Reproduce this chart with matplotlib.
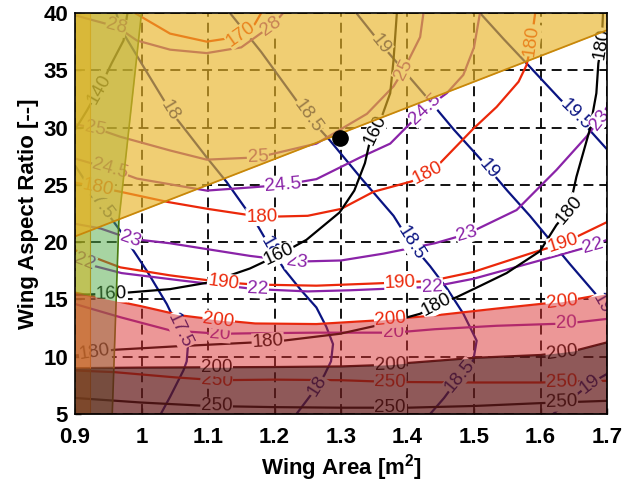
import numpy as np
import matplotlib
matplotlib.use('Agg')
import matplotlib.pyplot as plt

plt.rcParams['font.family'] = ['Liberation Sans', 'DejaVu Sans']
plt.rcParams['mathtext.fontset'] = 'custom'
plt.rcParams['mathtext.rm'] = 'Liberation Sans'
plt.rcParams['mathtext.bf'] = 'Liberation Sans:bold'

# contour lines, (wing area, aspect ratio)
navy_175 = [(0.9, 26.7), (0.935, 23.6), (0.968, 21.0), (1.008, 17.5), (1.038, 14.6), (1.058, 12.2),
            (1.07, 11.1), (1.068, 9.6), (1.063, 8.8), (1.043, 6.5), (1.029, 5.0)]
navy_18 = [(0.962, 40), (0.970, 38.5), (1.0, 35.6), (1.043, 31.5), (1.07, 29.5), (1.098, 27.4),
           (1.128, 25.25), (1.158, 22.8), (1.173, 21.6), (1.193, 19.6), (1.215, 17.6), (1.24, 15.8),
           (1.263, 14.3), (1.278, 12.6), (1.288, 11.1), (1.285, 9.6), (1.275, 8.4), (1.263, 7.3), (1.233, 5.0)]
navy_185 = [(1.133, 40), (1.18, 36.6), (1.225, 33.0), (1.25, 31.0), (1.283, 28.9), (1.33, 25.6),
            (1.379, 22.3), (1.405, 19.9), (1.434, 17.9), (1.46, 15.9), (1.484, 13.75), (1.504, 11.4),
            (1.499, 9.7), (1.479, 8.3), (1.455, 6.4), (1.434, 5.0)]
navy_19 = [(1.323, 40), (1.36, 37.3), (1.40, 34.6), (1.434, 32.3), (1.47, 29.8), (1.509, 27.3),
           (1.55, 24.5), (1.584, 22.3), (1.644, 18.1), (1.684, 15.4), (1.7, 13.8)]
navy_19b = [(1.7, 8.5), (1.679, 7.8), (1.65, 6.5), (1.619, 5.0)]
navy_195 = [(1.509, 40), (1.545, 37.7), (1.584, 35.3), (1.629, 32.5), (1.655, 31.0), (1.7, 28.1)]

purple_20 = [(0.9, 14.6), (0.968, 13.45), (1.043, 12.3), (1.118, 12.0), (1.171, 12.05), (1.263, 12.1),
             (1.379, 12.1), (1.441, 12.4), (1.534, 12.7), (1.639, 12.9), (1.7, 13.3)]
purple_22 = [(0.9, 18.6), (0.93, 17.9), (0.97, 17.3), (1.06, 16.65), (1.171, 15.9), (1.25, 15.7),
             (1.314, 15.8), (1.437, 16.1), (1.499, 16.8), (1.599, 18.4), (1.679, 19.7), (1.7, 20.2)]
purple_23 = [(0.9, 21.6), (0.938, 21.2), (0.983, 20.3), (1.043, 19.9), (1.163, 18.8), (1.233, 18.3),
             (1.30, 18.4), (1.364, 19.0), (1.441, 19.9), (1.489, 20.7), (1.564, 22.8), (1.624, 26.3),
             (1.669, 29.2), (1.689, 30.7), (1.7, 31.8)]
purple_245 = [(0.9, 27.3), (0.953, 26.4), (0.993, 25.55), (1.098, 24.5), (1.17, 24.8), (1.213, 25.0),
              (1.263, 25.5), (1.329, 27.4), (1.374, 28.6), (1.409, 30.65), (1.426, 31.6), (1.459, 33.0),
              (1.484, 34.6), (1.50, 37.0), (1.509, 40)]
purple_25 = [(0.9, 30.3), (0.933, 29.9), (0.968, 29.2), (1.043, 28.0), (1.098, 27.2), (1.175, 27.4),
             (1.263, 28.6), (1.339, 31.2), (1.379, 33.6), (1.394, 35.0), (1.419, 37.9), (1.424, 40)]
purple_28 = [(0.9, 39.8), (0.963, 38.8), (0.993, 37.6), (1.043, 36.8), (1.098, 36.5), (1.15, 37.0),
             (1.198, 39.0), (1.213, 40)]

red_170 = [(0.99, 40), (1.043, 38.2), (1.098, 37.5), (1.143, 37.9), (1.17, 39.0), (1.18, 40)]
red_180 = [(0.9, 25.2), (0.968, 24.4), (1.04, 23.5), (1.10, 22.9), (1.18, 22.2), (1.25, 22.3),
           (1.30, 22.9), (1.349, 24.4), (1.406, 25.3), (1.43, 26.0), (1.449, 26.9), (1.499, 29.9),
           (1.534, 31.8), (1.567, 34.0), (1.579, 35.45), (1.585, 37.0), (1.592, 40)]
red_190 = [(0.9, 19.3), (0.968, 17.8), (1.043, 17.1), (1.123, 16.5), (1.17, 16.3), (1.263, 16.2),
           (1.354, 16.4), (1.434, 16.6), (1.499, 17.4), (1.584, 19.0), (1.634, 19.9), (1.7, 21.75)]
red_200 = [(0.9, 15.6), (0.95, 15.0), (1.0, 14.4), (1.06, 13.6), (1.116, 13.2), (1.171, 12.9),
           (1.263, 12.85), (1.349, 13.15), (1.441, 13.6), (1.534, 14.2), (1.632, 14.8), (1.7, 15.5)]
red_250 = [(0.9, 8.8), (0.96, 8.65), (1.05, 8.2), (1.113, 7.95), (1.2, 8.0), (1.3, 7.95),
           (1.374, 7.8), (1.5, 7.75), (1.6, 7.75), (1.7, 7.9)]

black_140 = [(0.9, 29.8), (0.918, 31.5), (0.938, 33.55), (0.955, 35.6), (0.973, 37.6), (0.978, 39.7), (0.979, 40)]
black_160 = [(0.9, 15.4), (0.958, 15.5), (1.043, 15.9), (1.103, 16.5), (1.163, 17.7), (1.207, 18.9),
             (1.248, 20.2), (1.298, 22.6), (1.32, 24.5), (1.336, 26.9), (1.343, 28.7), (1.352, 29.8),
             (1.361, 30.9), (1.374, 33.0), (1.379, 35.9), (1.384, 40)]
black_180 = [(0.9, 10.1), (0.958, 10.6), (1.05, 10.9), (1.17, 11.25), (1.213, 11.4), (1.298, 12.0),
             (1.36, 12.8), (1.419, 13.75), (1.444, 14.5), (1.474, 15.2), (1.51, 16.2), (1.549, 17.3),
             (1.599, 19.2), (1.624, 21.5), (1.643, 22.8), (1.654, 25.7), (1.674, 29.8), (1.684, 33.0),
             (1.687, 35.6), (1.692, 37.3), (1.694, 40)]
black_200 = [(0.9, 9.0), (1.0, 9.05), (1.113, 9.08), (1.2, 9.1), (1.3, 9.15), (1.374, 9.3), (1.4, 9.45),
             (1.5, 9.9), (1.6, 10.15), (1.65, 10.5), (1.7, 11.25)]
black_250 = [(0.9, 6.4), (1.0, 6.0), (1.1, 5.7), (1.2, 5.6), (1.3, 5.55), (1.4, 5.55), (1.5, 5.7),
             (1.6, 5.95), (1.7, 6.15)]

# where the inline labels sit
navy_175_lab = [(0.936, 23.4), (1.057, 12.3)]
navy_18_lab = [(1.043, 31.5), (1.193, 19.6), (1.265, 7.4)]
navy_185_lab = [(1.25, 31.0), (1.405, 19.9), (1.479, 8.3)]
navy_19_lab = [(1.36, 37.3), (1.522, 26.4), (1.69, 14.6)]
navy_19b_lab = [(1.675, 7.6)]
navy_195_lab = [(1.652, 31.1)]
purple_20_lab = [(1.118, 12.0), (1.379, 12.1), (1.639, 12.9)]
purple_22_lab = [(0.915, 18.3), (1.175, 15.85), (1.437, 16.1), (1.679, 19.7)]
purple_23_lab = [(0.983, 20.3), (1.233, 18.3), (1.489, 20.7), (1.689, 30.7)]
purple_245_lab = [(0.953, 26.4), (1.213, 25.0), (1.426, 31.6)]
purple_25_lab = [(0.93, 29.95), (1.175, 27.4), (1.395, 35.0)]
purple_28_lab = [(0.962, 38.8), (1.195, 38.9)]
red_170_lab = [(1.15, 38.1)]
red_180_lab = [(0.935, 24.8), (1.181, 22.2), (1.43, 26.0), (1.587, 37.6)]
red_190_lab = [(1.123, 16.5), (1.389, 16.5), (1.634, 19.9)]
red_200_lab = [(1.116, 13.2), (1.374, 13.25), (1.632, 14.8)]
red_250_lab = [(1.113, 7.95), (1.374, 7.8), (1.632, 7.75)]
black_140_lab = [(0.936, 33.4)]
black_160_lab = [(0.955, 15.5), (1.207, 18.9), (1.352, 29.8)]
black_180_lab = [(0.93, 10.3), (1.19, 11.3), (1.444, 14.5), (1.643, 22.8), (1.692, 37.3)]
black_200_lab = [(1.113, 9.08), (1.374, 9.3), (1.632, 10.35)]
black_250_lab = [(1.113, 5.68), (1.374, 5.55), (1.632, 6.0)]

# constraint boundaries
yellow_x = [0.9, 1.7]
yellow_y = [20.5, 38.5]
green_x = [0.956, 0.966, 1.0]
green_y = [5, 21.9, 40]
band_x = 0.923
opt_x = [1.298]
opt_y = [29.1]

xticks = [0.9, 1.0, 1.1, 1.2, 1.3, 1.4, 1.5, 1.6, 1.7]
xtick_labels = ['0.9', '1', '1.1', '1.2', '1.3', '1.4', '1.5', '1.6', '1.7']
yticks = [5, 10, 15, 20, 25, 30, 35, 40]

navy = '#0a1482'
purple = '#8a23a8'
red = '#eb280a'
black = '#000000'

contours = [
    (navy_175, navy_175_lab, '17.5', navy), (navy_18, navy_18_lab, '18', navy),
    (navy_185, navy_185_lab, '18.5', navy), (navy_19, navy_19_lab, '19', navy),
    (navy_19b, navy_19b_lab, '19', navy), (navy_195, navy_195_lab, '19.5', navy),
    (purple_20, purple_20_lab, '20', purple), (purple_22, purple_22_lab, '22', purple),
    (purple_23, purple_23_lab, '23', purple), (purple_245, purple_245_lab, '24.5', purple),
    (purple_25, purple_25_lab, '25', purple), (purple_28, purple_28_lab, '28', purple),
    (red_170, red_170_lab, '170', red), (red_180, red_180_lab, '180', red),
    (red_190, red_190_lab, '190', red), (red_200, red_200_lab, '200', red),
    (red_250, red_250_lab, '250', red),
    (black_140, black_140_lab, '140', black), (black_160, black_160_lab, '160', black),
    (black_180, black_180_lab, '180', black), (black_200, black_200_lab, '200', black),
    (black_250, black_250_lab, '250', black),
]

fig = plt.figure(figsize=(6.34, 4.9), dpi=100)
ax = fig.add_axes([75 / 634, 76 / 490, 532 / 634, 401 / 490])
ax.set_xlim(0.9, 1.7)
ax.set_ylim(5, 40)


def put_labels(pts, labs, text, color):
    xy = ax.transData.transform(pts)
    for lab in labs:
        p = ax.transData.transform(lab)
        best = None
        for a, b in zip(xy[:-1], xy[1:]):
            d = b - a
            t = np.clip(np.dot(p - a, d) / np.dot(d, d), 0, 1)
            q = a + t * d
            dist = np.hypot(*(p - q))
            if best is None or dist < best[0]:
                best = (dist, q, d)
        q, d = best[1], best[2]
        ang = np.degrees(np.arctan2(d[1], d[0]))
        if ang > 90:
            ang -= 180
        if ang < -90:
            ang += 180
        x, y = ax.transData.inverted().transform(q)
        ax.text(x, y, text, color=color, rotation=ang, rotation_mode='anchor',
                ha='center', va='center', fontsize=13.5, zorder=3, clip_on=True,
                bbox=dict(boxstyle='square,pad=0.03', fc='white', ec='none'))


for pts, labs, text, color in contours:
    px, py = zip(*pts)
    ax.plot(px, py, color=color, lw=1.6, zorder=2, solid_capstyle='butt')
    put_labels(pts, labs, text, color)

# shaded constraint regions (drawn over the contours, like the original)
ax.fill_betweenx(green_y, 0.9, green_x, color='#50aa46', alpha=0.5, lw=0, zorder=4)
ax.plot(green_x, green_y, color='#4a7a10', lw=1.2, zorder=4.05)
ax.axvspan(0.9, band_x, color='#d5b212', alpha=0.5, lw=0, zorder=4.1)
ax.axvline(band_x, color='#a89820', lw=0.8, zorder=4.1)
rx, ry = zip(*red_200)
ax.fill_between(rx, ry, 5, color='#da3030', alpha=0.5, lw=0, zorder=4.2)
bx, by = zip(*black_200)
ax.fill_between(bx, by, 5, color='#1e0f0f', alpha=0.45, lw=0, zorder=4.3)
ax.fill_between(yellow_x, yellow_y, 40, color='#e8b428', alpha=0.65, lw=0, zorder=4.4)
ax.plot(yellow_x, yellow_y, color='#c8870a', lw=1.3, zorder=5)

ax.plot(opt_x, opt_y, 'o', color='black', ms=11, zorder=6)

ax.set_xticks(xticks)
ax.set_xticklabels(xtick_labels)
ax.set_yticks(yticks)
ax.grid(True, color='black', lw=1.3, linestyle=(0, (5.5, 3.3)))
ax.set_axisbelow(True)
ax.tick_params(direction='in', length=4, width=1, labelsize=16)
ax.tick_params(axis='x', pad=9)
ax.tick_params(axis='y', pad=5)
for lab in ax.get_xticklabels() + ax.get_yticklabels():
    lab.set_fontweight('bold')
for sp in ax.spines.values():
    sp.set_linewidth(1.2)
    sp.set_zorder(10)

ax.set_xlabel(r'Wing Area [m$^{\mathbf{2}}$]', fontsize=16, fontweight='bold', labelpad=3)
ax.set_ylabel('Wing Aspect Ratio [--]', fontsize=16, fontweight='bold', labelpad=3)

fig.savefig('out.png', dpi=100)
